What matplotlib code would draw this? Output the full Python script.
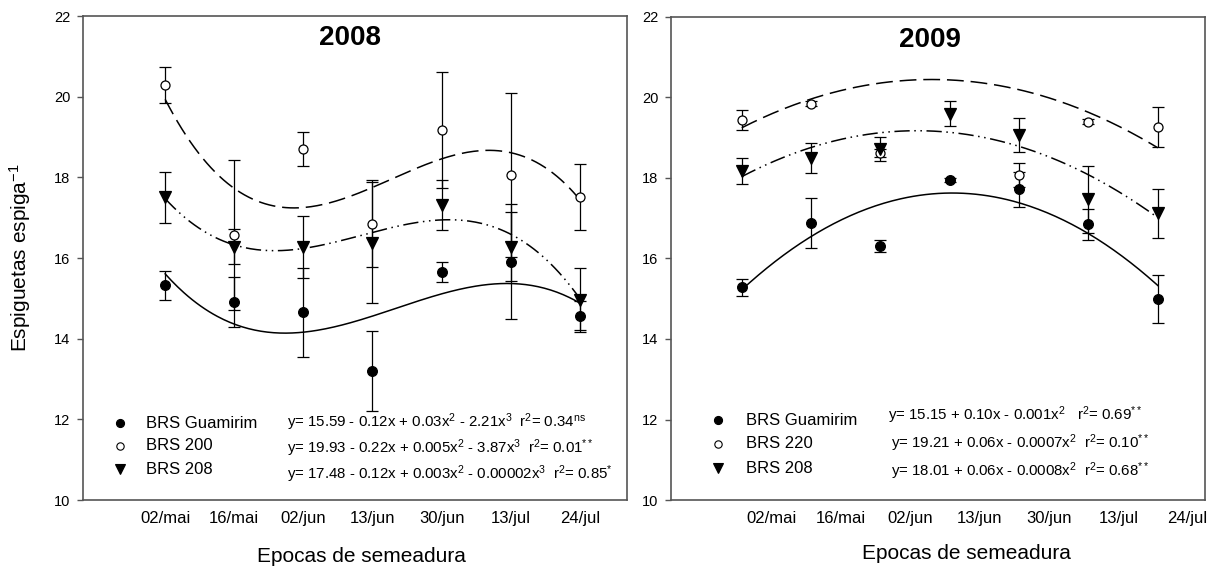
import numpy as np
import matplotlib
matplotlib.use("Agg")
import matplotlib.pyplot as plt

plt.rcParams["font.family"] = "Liberation Sans"
plt.rcParams["mathtext.fontset"] = "custom"
plt.rcParams["mathtext.rm"] = "Liberation Sans"
plt.rcParams["mathtext.it"] = "Liberation Sans"
plt.rcParams["mathtext.bf"] = "Liberation Sans:bold"

dates = ["02/mai", "16/mai", "02/jun", "13/jun", "30/jun", "13/jul", "24/jul"]

# 2008 - means and error bars
guam_08 = [15.33, 14.91, 14.65, 13.20, 15.65, 15.91, 14.57]
guam_08_err = [0.36, 0.62, 1.10, 1.00, 0.24, 1.43, 0.36]
b200_08 = [20.29, 16.58, 18.71, 16.85, 19.18, 18.05, 17.51]
b200_08_err = [0.45, 1.86, 0.42, 1.08, 1.44, 2.03, 0.82]
b208_08 = [17.51, 16.28, 16.28, 16.38, 17.31, 16.28, 14.96]
b208_08_err = [0.63, 0.44, 0.77, 1.50, 0.62, 0.86, 0.80]
# fitted curves (read at each sowing date)
guam_08_fit = [15.60, 14.38, 14.15, 14.55, 15.12, 15.37, 14.88]
b200_08_fit = [19.93, 17.74, 17.24, 17.74, 18.48, 18.60, 17.45]
b208_08_fit = [17.48, 16.30, 16.26, 16.63, 16.95, 16.58, 15.00]

# 2009
guam_09 = [15.28, 16.88, 16.32, 17.95, 17.72, 16.85, 14.99]
guam_09_err = [0.20, 0.63, 0.15, 0.05, 0.43, 0.38, 0.60]
b220_09 = [19.44, 19.85, 18.63, np.nan, 18.07, 19.40, 19.27]
b220_09_err = [0.25, 0.06, 0.10, 0.0, 0.30, 0.07, 0.50]
b208_09 = [18.17, 18.49, 18.72, 19.60, 19.07, 17.47, 17.12]
b208_09_err = [0.32, 0.37, 0.30, 0.32, 0.42, 0.84, 0.60]
guam_09_fit = [15.26, 16.52, 17.29, 17.62, 17.43, 16.67, 15.28]
b220_09_fit = [19.23, 19.98, 20.35, 20.50, 20.14, 19.60, 18.78]
b208_09_fit = [18.02, 18.78, 19.13, 19.11, 18.80, 18.07, 17.02]

eq_08 = [
    "y= 15.59 - 0.12x + 0.03x$^2$ - 2.21x$^3$  r$^2$= 0.34$^{ns}$",
    "y= 19.93 - 0.22x + 0.005x$^2$ - 3.87x$^3$  r$^2$= 0.01$^{**}$",
    "y= 17.48 - 0.12x + 0.003x$^2$ - 0.00002x$^3$  r$^2$= 0.85$^{*}$",
]
eq_09 = [
    "y= 15.15 + 0.10x - 0.001x$^2$   r$^2$= 0.69$^{**}$",
    "y= 19.21 + 0.06x - 0.0007x$^2$  r$^2$= 0.10$^{**}$",
    "y= 18.01 + 0.06x - 0.0008x$^2$  r$^2$= 0.68$^{**}$",
]

SPINE = "#555555"
x = np.arange(1, len(dates) + 1)
xs = np.linspace(1, len(dates), 200)

fig = plt.figure(figsize=(12.18, 5.70), dpi=100)
ax1 = fig.add_axes([0.0681, 0.1228, 0.4465, 0.8491])
ax2 = fig.add_axes([0.5509, 0.1228, 0.4384, 0.8474])

styles = [
    dict(marker="o", ms=7, mfc="black", ls="-"),
    dict(marker="o", ms=6.5, mfc="white", ls=(0, (11, 4.5))),
    dict(marker="v", ms=8, mfc="black", ls=(0, (10, 3, 1, 3, 1, 3))),
]


def panel(ax, series, errs, fits, deg, names, eqs, title, xlim, tick_shift,
          leg_x, eq_x, leg_y, eq_y, title_xy, xlabel_xy):
    for vals, err, fit, st in zip(series, errs, fits, styles):
        coef = np.polyfit(x, fit, deg)
        ax.plot(xs, np.polyval(coef, xs), color="black", lw=1.1, ls=st["ls"],
                zorder=2)
        ax.errorbar(x, vals, yerr=err, fmt="none", ecolor="black",
                    elinewidth=0.9, capsize=4.2, capthick=0.9, zorder=3)
        ax.plot(x, vals, ls="none", marker=st["marker"], ms=st["ms"],
                mfc=st["mfc"], mec="black", mew=0.9, zorder=4)
    for i, (name, st) in enumerate(zip(names, styles)):
        ax.plot([leg_x[0]], [leg_y[i]], transform=ax.transAxes,
                marker=st["marker"], ms=st["ms"] - 1.2, mfc=st["mfc"],
                mec="black", mew=0.8, ls="none", clip_on=False)
        ax.text(leg_x[1], leg_y[i], name, transform=ax.transAxes,
                fontsize=12, va="center", ha="left")
        ax.text(eq_x[i], eq_y[i], eqs[i], transform=ax.transAxes,
                fontsize=10.8, va="center", ha="left")

    ax.set_xlim(*xlim)
    ax.set_ylim(10, 22)
    ax.set_yticks(range(10, 23, 2))
    ax.set_xticks(x + tick_shift)
    ax.set_xticklabels(dates, fontsize=12)
    ax.tick_params(axis="x", length=0, pad=8)
    ax.tick_params(axis="y", direction="out", length=4, width=1,
                   color=SPINE, labelsize=10.5, pad=5)
    for s in ax.spines.values():
        s.set_color(SPINE)
        s.set_linewidth(1.2)
    ax.text(title_xy[0], title_xy[1], title, transform=ax.transAxes,
            fontsize=20, fontweight="bold", ha="center", va="center")
    ax.set_xlabel("Epocas de semeadura", fontsize=15)
    ax.xaxis.set_label_coords(*xlabel_xy)


panel(ax1, [guam_08, b200_08, b208_08],
      [guam_08_err, b200_08_err, b208_08_err],
      [guam_08_fit, b200_08_fit, b208_08_fit], 3,
      ["BRS Guamirim", "BRS 200", "BRS 208"], eq_08, "2008",
      (-0.19, 7.68), 0.0,
      (0.068, 0.116), [0.375, 0.375, 0.375],
      [0.1585, 0.1116, 0.0634], [0.160, 0.108, 0.054],
      (0.491, 0.955), (0.513, -0.097))

panel(ax2, [guam_09, b220_09, b208_09],
      [guam_09_err, b220_09_err, b208_09_err],
      [guam_09_fit, b220_09_fit, b208_09_fit], 2,
      ["BRS Guamirim", "BRS 220", "BRS 208"], eq_09, "2009",
      (-0.02, 7.68), 0.43,
      (0.0877, 0.141), [0.407, 0.412, 0.412],
      [0.1656, 0.116, 0.0656], [0.176, 0.117, 0.059],
      (0.485, 0.952), (0.554, -0.091))

ax1.set_ylabel("Espiguetas espiga$^{-1}$", fontsize=15)
ax1.yaxis.set_label_coords(-0.092, 0.5)

fig.savefig("out.png", dpi=100)
